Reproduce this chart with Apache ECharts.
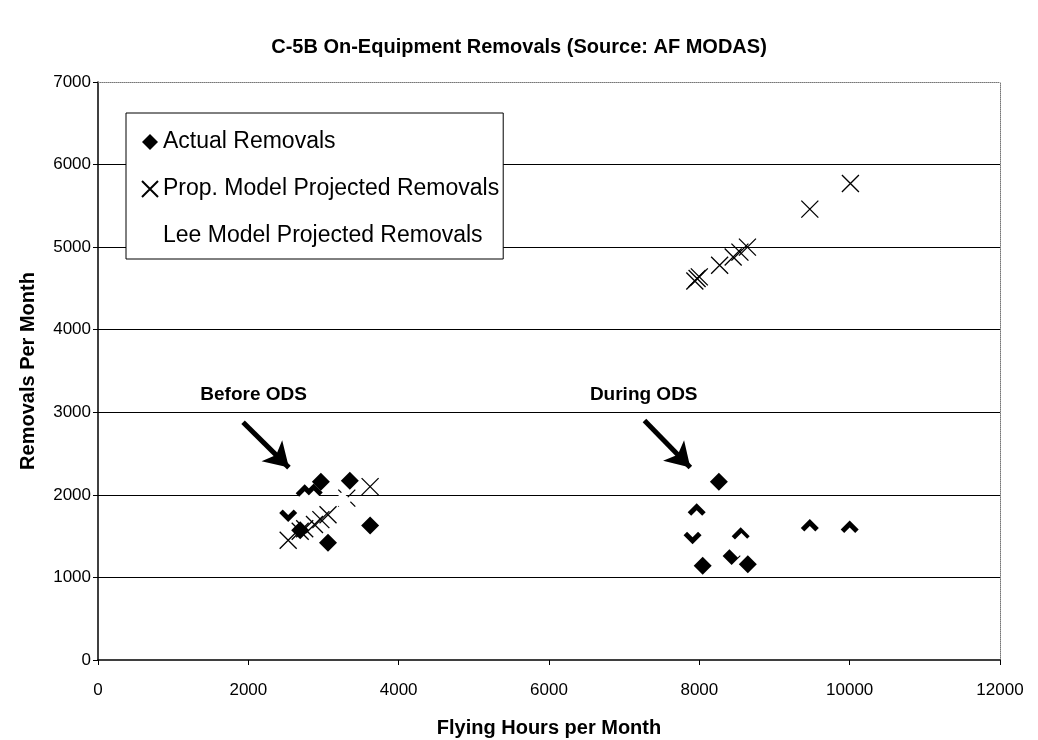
<!DOCTYPE html>
<html>
<head>
<meta charset="utf-8">
<title>C-5B On-Equipment Removals</title>
<script src="https://cdn.jsdelivr.net/npm/echarts@6/dist/echarts.min.js"></script>
<style>
    html, body { margin: 0; padding: 0; background: #fff; }
    #chart { width: 1038px; height: 740px; }
</style>
</head>
<body>
<div id="chart"></div>
<script>
// [flying hours, removals]
let actualRemovals = [
    [2530, 1780], [2690, 1570], [2750, 2020], [2870, 2030], [2965, 2160],
    [3060, 1420], [3350, 2170], [3620, 1630],
    [7910, 1510], [7965, 1790], [8045, 1140], [8260, 2160], [8430, 1260],
    [8550, 1500], [8645, 1160], [9470, 1600], [10000, 1580]
];
let propModel = [
    [2530, 1450], [2690, 1560], [2750, 1590], [2880, 1640], [2965, 1700],
    [3060, 1760], [3310, 1960], [3620, 2100],
    [7940, 4590], [7970, 4620], [8000, 4640], [8270, 4780], [8450, 4880],
    [8540, 4940], [8640, 5000], [9470, 5460], [10010, 5770]
];
// white diamonds, only visible where they cover other marks
let leeModel = [
    [2530, 1865], [2750, 1935], [2870, 1945], [3250, 1930],
    [7910, 1595], [7965, 1705], [8510, 1350], [8560, 1430],
    [9470, 1515], [10000, 1495]
];
let seriesNames = ["Actual Removals", "Prop. Model Projected Removals", "Lee Model Projected Removals"];

// annotations, in data units
let noteLabels = [
    { name: "Before ODS", coord: [2070, 3210] },
    { name: "During ODS", coord: [7260, 3210] }
];
let noteArrows = [
    [[1930, 2880], [2540, 2330]],
    [[7270, 2900], [7880, 2330]]
];

let font = "Liberation Sans";
let plainNumber = function(v) {
    return String(v); // no thousands separator
};
let chart = echarts.init(document.getElementById("chart"));
chart.setOption({
    animation: false,
    title: {
        text: "C-5B On-Equipment Removals (Source: AF MODAS)",
        left: "center",
        top: 32,
        textStyle: {
            fontFamily: font,
            fontWeight: "bold",
            fontSize: 20,
            color: "#000"
        }
    },
    grid: {
        left: 98,
        right: 38,
        top: 82,
        bottom: 80,
        outerBoundsMode: "none"
    },
    legend: {
        orient: "vertical",
        left: 126,
        top: 113,
        data: seriesNames,
        backgroundColor: "#fff",
        borderColor: "#000",
        borderWidth: 1,
        padding: [16, 4, 10, 15],
        itemGap: 21,
        itemWidth: 16,
        itemHeight: 16,
        selectedMode: false,
        textStyle: {
            fontFamily: font,
            fontSize: 23,
            lineHeight: 26,
            color: "#000"
        }
    },
    xAxis: [{
        type: "value",
        min: 0,
        max: 12000,
        interval: 2000,
        name: "Flying Hours per Month",
        nameLocation: "middle",
        nameGap: 58,
        nameTextStyle: {
            fontFamily: font,
            fontWeight: "bold",
            fontSize: 20,
            color: "#000"
        },
        axisLine: { lineStyle: { color: "#000", width: 1.5 } },
        axisTick: { show: true, length: 5, lineStyle: { color: "#000" } },
        axisLabel: {
            fontFamily: font,
            fontSize: 17,
            color: "#000",
            margin: 22,
            formatter: plainNumber
        },
        splitLine: { show: false }
    }, {
        // dotted frame on top
        type: "value",
        position: "top",
        min: 0,
        max: 12000,
        axisLine: { show: true, onZero: false, lineStyle: { color: "#777", type: "dotted" } },
        axisTick: { show: false },
        axisLabel: { show: false },
        splitLine: { show: false }
    }],
    yAxis: [{
        type: "value",
        min: 0,
        max: 7000,
        interval: 1000,
        name: "Removals Per Month",
        nameLocation: "middle",
        nameGap: 60,
        nameTextStyle: {
            fontFamily: font,
            fontWeight: "bold",
            fontSize: 20,
            color: "#000"
        },
        axisLine: { show: true, lineStyle: { color: "#000", width: 1.5 } },
        axisTick: { show: true, length: 5, lineStyle: { color: "#000" } },
        axisLabel: {
            fontFamily: font,
            fontSize: 17,
            color: "#000",
            margin: 7,
            formatter: plainNumber
        },
        splitLine: {
            show: true,
            showMinLine: false,
            showMaxLine: false,
            lineStyle: { color: "#000", width: 1 }
        }
    }, {
        // dotted frame on the right
        type: "value",
        position: "right",
        min: 0,
        max: 7000,
        axisLine: { show: true, onZero: false, lineStyle: { color: "#777", type: "dotted" } },
        axisTick: { show: false },
        axisLabel: { show: false },
        splitLine: { show: false }
    }],
    series: [{
        name: seriesNames[0],
        type: "scatter",
        symbol: "diamond",
        symbolSize: 18,
        data: actualRemovals,
        itemStyle: { color: "#000", opacity: 1 },
        markLine: {
            silent: true,
            symbol: ["none", "arrow"],
            symbolSize: [22, 24],
            label: { show: false },
            lineStyle: { color: "#000", width: 5, type: "solid", opacity: 1 },
            data: noteArrows.map(function(a) {
                return [{ coord: a[0] }, { coord: a[1] }];
            })
        },
        markPoint: {
            silent: true,
            symbol: "circle",
            symbolSize: 0,
            label: {
                show: true,
                position: "inside",
                formatter: "{b}",
                fontFamily: font,
                fontWeight: "bold",
                fontSize: 19,
                color: "#000"
            },
            data: noteLabels
        }
    }, {
        name: seriesNames[1],
        type: "scatter",
        symbol: "path://M0,0L10,10M10,0L0,10",
        symbolSize: 17,
        data: propModel,
        itemStyle: { color: "transparent", borderColor: "#000", borderWidth: 1.3, opacity: 1 }
    }, {
        name: seriesNames[2],
        type: "scatter",
        symbol: "diamond",
        symbolSize: 18,
        data: leeModel,
        itemStyle: { color: "#fff", opacity: 1 }
    }]
});
</script>
</body>
</html>
